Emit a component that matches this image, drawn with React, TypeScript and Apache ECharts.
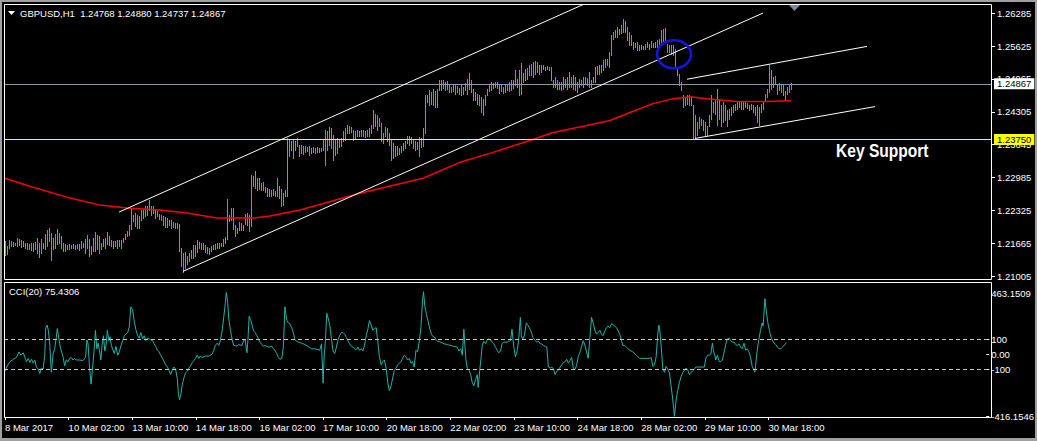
import React, { useEffect, useRef } from "react";
import * as echarts from "echarts";

const FONT = '"Liberation Sans", Arial, sans-serif';
const PRICE_BASE = 1.2;
const PIP = 0.0001;

// Bar highs / lows in pips above 1.2000 (bar index = position in array)
const highPips = [
  171,161,173,171,169,167,177,175,173,171, 167,166,164,166,166,169,177,166,174,167,
  184,193,197,186,177,185,195,187,181,167, 164,163,165,163,165,163,165,164,171,167,
  175,182,174,161,177,189,183,181,167,175, 177,189,181,172,171,171,173,172,173,177,
  184,191,204,237,224,227,224,221,234,233, 241,242,254,242,241,234,231,226,223,221,
  219,217,214,213,209,207,207,206,157,147, 149,141,146,153,163,162,172,169,167,166,
  162,158,156,161,162,164,166,167,166,174, 179,255,224,237,237,204,197,209,207,204,
  226,227,224,304,302,311,297,297,287,289, 279,277,275,274,275,272,297,281,275,267,
  274,377,374,371,374,371,377,364,364,361, 361,359,361,357,359,357,359,357,357,374,
  394,391,399,397,384,374,377,375,377,391, 397,405,401,399,394,392,393,392,393,394,
  391,394,397,404,435,427,424,419,409,387, 399,397,387,374,367,361,362,357,361,367,
  371,381,382,379,374,371,369,379,377,397, 464,464,475,471,477,473,477,494,495,494,
  491,493,486,481,487,484,482,479,484,481, 489,497,509,495,477,471,467,464,461,457,
  464,477,484,491,489,491,491,486,484,481, 485,487,491,494,495,515,497,514,529,509,
  517,519,524,527,531,532,531,524,524,525, 521,523,521,521,494,501,494,491,491,501,
  497,501,511,501,504,501,491,497,494,501, 501,499,511,494,501,521,523,525,525,534,
  537,537,551,584,591,594,601,597,604,617, 614,601,591,584,571,569,571,565,564,563,
  567,571,567,572,569,571,574,577,594,597, 599,567,564,565,564,557,521,507,491,464,
  461,464,464,461,444,424,411,421,417,414, 411,401,424,464,451,454,477,454,444,451,
  444,434,437,441,444,447,451,452,451,453, 451,449,445,447,444,441,444,441,447,452,
  467,477,525,514,501,503,484,489,485,484, 472,481,484,489
];
const lowPips = [
  142,144,157,161,161,162,161,162,159,161, 157,155,154,153,151,154,147,139,147,157,
  155,161,171,133,154,157,164,167,157,151, 151,154,154,156,156,155,157,153,157,159,
  147,157,141,144,151,151,154,147,154,161, 157,164,162,161,157,161,157,161,157,169,
  175,181,182,194,211,201,197,196,214,217, 221,224,234,224,227,217,221,215,214,204,
  199,199,204,197,199,197,197,151,121,109, 117,124,131,137,137,141,149,157,154,154,
  149,146,144,151,154,155,157,157,161,161, 166,175,211,213,194,181,187,193,193,193,
  206,204,191,201,281,277,274,275,274,274, 269,261,262,262,264,261,261,257,241,244,
  261,261,341,354,337,354,361,342,347,346, 349,351,344,347,349,347,349,349,351,354,
  324,354,364,357,334,344,347,359,361,371, 374,387,387,389,374,377,381,382,382,382,
  379,381,382,387,397,401,394,401,371,367, 381,371,364,334,337,341,344,346,349,354,
  357,367,364,367,357,354,355,341,359,361, 387,451,444,447,444,441,441,474,475,479,
  474,477,471,471,473,467,471,467,464,466, 474,467,477,471,454,454,447,444,431,424,
  444,464,473,475,479,481,479,469,473,469, 471,474,473,475,479,484,481,464,467,491,
  495,497,504,504,501,507,511,507,511,516, 514,516,514,494,481,481,477,477,474,477,
  481,477,481,481,477,474,471,481,484,481, 487,484,481,481,491,491,507,507,511,514,
  521,524,521,544,577,581,581,587,589,591, 591,574,564,564,557,561,554,554,557,556,
  557,561,557,561,561,561,561,564,571,571, 574,551,551,547,544,521,504,484,474,441,
  444,447,444,444,377,377,384,397,404,394, 384,384,401,417,431,427,404,417,401,411,
  414,401,417,424,431,434,437,441,437,436, 441,439,434,437,431,424,411,404,431,437,
  454,461,471,477,481,487,467,474,471,464, 454,467,471,477
];

// Red moving average: [bar index, price]
const maBars = [0, 14, 31, 47.5, 61, 77.5, 91, 106, 124, 132.5, 147.5, 177.5, 209, 227.5, 244, 262.5, 274, 291, 302.5, 312.5, 324, 334, 342.5, 351, 366, 381, 393];
const maValues = [1.2297, 1.2279, 1.2259, 1.2243, 1.2237, 1.2233, 1.2227, 1.2217, 1.2217, 1.2221, 1.2233, 1.2267, 1.2297, 1.2329, 1.2349, 1.2373, 1.2389, 1.2403, 1.2413, 1.2429, 1.2447, 1.2457, 1.2461, 1.2457, 1.2451, 1.2451, 1.2453];

// CCI(20): [bar index, value]
const cciPoints = [
  [0,-115],[0.8,-87],[2.5,-51],[4.2,-35],[5.8,-23],[7,14],[8,-8],[9.2,8],[10,-23],[10.8,-51],[11.7,-29],[12.5,-57],[13.3,-35],[14.2,-61],[15,-40],[15.8,-87],[16.7,-100],[17.5,-130],[18.3,-94],[19.2,-100],
  [20,-8],[20.5,175],[21.2,193],[21.8,158],[22.5,68],[23.3,-122],[24.2,3],[25,35],[25.8,111],[26.3,169],[27.2,94],[28,35],[29.2,-18],[30,-79],[30.8,-40],[31.7,-51],[32.5,-29],[33.3,-23],[34.2,-40],[35,-29],
  [35.8,-40],[37.5,-40],[39.2,-44],[40.5,-23],[41.2,94],[41.8,68],[42.5,-87],[43.3,-201],[44.2,-72],[45,57],[45.5,158],[46.2,35],[46.8,72],[47.5,25],[48.2,-40],[48.8,57],[49.5,122],[50.2,20],[50.8,57],[51.5,158],
  [52.2,89],[52.8,115],[53.5,57],[54.2,29],[55,3],[55.8,51],[56.7,-8],[57.5,14],[58.3,57],[59.2,89],[60,122],[60.8,132],[61.7,143],[62.5,180],[63.3,315],[64.2,294],[65,218],[65.8,165],[66.7,122],[67.5,106],
  [68.3,143],[69.2,100],[70,122],[70.8,89],[71.7,106],[72.5,100],[73.3,94],[74.2,89],[75,68],[75.8,51],[76.7,25],[77.5,14],[78.3,-8],[79.2,-29],[80,-51],[80.8,-72],[81.7,-87],[82.5,-109],[83.3,-137],[84.2,-104],
  [85,-87],[85.8,-100],[86.7,-169],[87.2,-266],[87.8,-305],[88.5,-266],[89.2,-201],[90,-158],[90.8,-126],[91.7,-115],[92.5,-94],[93.3,-79],[94.2,-57],[95,-44],[95.8,-29],[96.7,-8],[97.5,-29],[98.3,-14],[99.2,-23],[100.8,-14],
  [102.5,-14],[104.2,-1],[105,25],[105.8,57],[106.7,72],[107.5,57],[108.3,89],[109.2,154],[110,244],[110.8,337],[111.3,410],[112,347],[112.5,240],[113.3,165],[114.2,100],[115,57],[115.8,57],[116.7,51],[117.5,63],[119.2,57],
  [120,89],[120.8,94],[121.7,8],[122.2,100],[122.8,251],[123.5,229],[124.2,197],[125,154],[125.8,143],[126.7,122],[127.5,100],[128.3,79],[129.2,63],[130,51],[130.8,57],[132.5,46],[134.2,51],[135,35],[135.8,25],[136.7,3],
  [137.5,-23],[138.3,-35],[139.2,-29],[140,46],[140.8,315],[141.3,261],[141.8,223],[142.5,208],[143.3,201],[144.2,175],[145,143],[145.8,94],[146.7,85],[147.5,79],[149.2,72],[150.8,63],[152.5,51],[154.2,35],[155.8,35],[157.5,29],
  [158.3,25],[159.2,68],[160,-195],[160.5,-18],[161.2,100],[161.8,272],[162.5,240],[163.3,197],[164.2,100],[165,20],[165.8,3],[166.7,46],[167.5,94],[168.3,122],[169.2,143],[170,143],[170.8,132],[171.7,111],[172.5,89],[173.3,68],
  [174.2,51],[175,46],[175.8,35],[176.7,29],[177.5,46],[178.3,25],[179.2,35],[180,20],[180.8,57],[181.7,122],[182.5,165],[183.3,223],[184.2,193],[185,158],[185.8,171],[186.7,175],[187.5,79],[188.3,-18],[189.2,-72],[190,-51],
  [190.8,-40],[191.7,-94],[192.5,-190],[193.3,-244],[194.2,-212],[195,-158],[195.8,-109],[196.7,-94],[197.5,-72],[198.3,-61],[199.2,-51],[200,-29],[200.8,-8],[201.7,-18],[202.5,-40],[203.3,-29],[204.2,-61],[205,-51],[205.8,-87],[206.7,25],
  [207.5,14],[208.3,79],[209.2,175],[210,358],[210.5,415],[211.2,315],[212,261],[212.8,218],[213.7,165],[214.5,132],[215.3,115],[216.2,111],[217,89],[217.8,85],[219.2,79],[220.8,68],[222.5,63],[224.2,57],[225.8,51],[227.5,46],
  [228.3,20],[229.2,35],[230,-8],[230.8,165],[231.3,57],[231.8,-35],[232.5,-94],[233.3,-104],[234.2,-137],[235,-190],[235.8,-212],[236.7,-169],[237.5,-137],[238,-223],[238.8,-104],[239.5,-18],[240,57],[240.8,85],[241.7,68],[242.5,94],
  [243.3,100],[244.2,94],[245,79],[245.8,68],[246.7,46],[247.5,25],[248.3,8],[249.2,20],[250,68],[250.8,79],[252.5,79],[253.3,85],[254.2,89],[255,165],[255.8,57],[256.7,-18],[257.5,14],[258.3,89],[259.2,244],[259.7,122],
  [260.3,100],[261.2,122],[262.2,208],[262.8,197],[263.7,175],[264.5,154],[265.5,111],[266.7,89],[267.5,79],[268.3,85],[269.2,68],[270,68],[270.8,57],[271.7,51],[272.5,46],[273.3,-87],[274.2,-94],[275,-87],[275.8,-100],[276.7,-137],
  [277.5,-115],[278.3,-109],[279.2,-87],[280,-72],[280.8,-57],[281.7,-51],[282.5,-35],[283.3,-61],[284.2,-44],[285,-23],[285.8,-94],[286.7,-104],[287.5,-72],[288.3,-18],[289.2,14],[290,51],[290.8,89],[291.7,57],[292.5,14],[293.3,-29],
  [294.2,111],[295,244],[295.8,208],[296.7,158],[297.5,132],[298.3,143],[299.2,158],[300,132],[300.8,122],[301.7,154],[302.5,175],[303.3,186],[304.2,175],[305,201],[305.8,197],[306.7,186],[307.5,175],[308.3,158],[309.2,132],[310,89],
  [310.8,57],[311.7,57],[312.5,46],[313.3,35],[314.2,25],[315.8,14],[317.5,-8],[319.2,-29],[320.8,-29],[322.5,-29],[324.2,-29],[325,-23],[325.8,-83],[326.7,-72],[327.5,-18],[328.3,132],[328.8,193],[329.2,175],[330,57],[330.8,-94],
  [331.7,-122],[332.5,-83],[333.3,-100],[334.2,-126],[335,-212],[335.8,-298],[336.7,-416],[337.5,-309],[338.3,-244],[339.2,-190],[340,-152],[340.8,-126],[341.7,-109],[342.5,-94],[343.3,-104],[344.2,-137],[345,-122],[345.8,-115],[346.7,-100],[347.5,-87],
  [348.3,-87],[350,-87],[351.7,-87],[352.5,-29],[353.3,-8],[354.2,-8],[355,-1],[355.8,72],[356.3,25],[357,-8],[357.5,-40],[358.3,-8],[359.2,-51],[360,-51],[360.8,-40],[361.7,14],[362.5,63],[363.3,100],[364.2,106],[365,89],
  [365.8,79],[366.7,79],[367.5,63],[368.3,57],[369.2,68],[370,46],[370.8,35],[371.7,72],[372.5,25],[373.3,35],[374.2,14],[375,-23],[375.8,-83],[376.7,-109],[377.2,-122],[377.8,-40],[378.5,46],[379.2,100],[380,158],[380.8,208],
  [381.3,186],[382.2,369],[382.8,294],[383.7,208],[384.5,154],[385.3,111],[386.2,85],[386.8,72],[387.7,63],[388.5,46],[389.3,35],[390.2,35],[391,46],[391.8,57],[393,75.43]
];

const priceTicks = [1.21005, 1.21665, 1.22325, 1.22985, 1.23645, 1.24305, 1.24965, 1.25625, 1.26285];
const cciTicks = [463.1509, 100, 0, -100, -416.1546];
const cciTickLabels = ["463.1509", "100", "0.00", "-100", "-416.1546"];
const timeTickBars = [0, 32, 64, 96, 128, 160, 192, 224, 256, 288, 320, 352, 384];
const timeTickLabels = ["8 Mar 2017", "10 Mar 02:00", "13 Mar 10:00", "14 Mar 18:00", "16 Mar 02:00", "17 Mar 10:00", "20 Mar 18:00", "22 Mar 02:00", "23 Mar 10:00", "24 Mar 18:00", "28 Mar 02:00", "29 Mar 10:00", "30 Mar 18:00"];

const symbolTitle = "GBPUSD,H1";
const lastOHLC = ["1.24768", "1.24880", "1.24737", "1.24867"];
const cciTitle = "CCI(20) 75.4306";
const bidPrice = 1.24867;
const supportPrice = 1.2375;
const supportText = "Key Support";

// Trend / channel lines: [[bar, price], [bar, price]]
const trendLines = [
  [[57, 1.2229], [289, 1.2646]],
  [[89, 1.2110], [379, 1.2629]],
  [[341, 1.2496], [431, 1.2562]],
  [[345, 1.2377], [435, 1.2441]],
];
const circleCenter = [334.5, 1.2546];

const BAR_COLOR = "#32cd32";

export default function App() {
  const ref = useRef<HTMLDivElement>(null);
  useEffect(() => {
    document.body.style.margin = "0";
    const chart = echarts.init(ref.current as HTMLDivElement, null, { renderer: "svg" });
    const barData = highPips.map((h, i) => [i, PRICE_BASE + h * PIP, PRICE_BASE + lowPips[i] * PIP]);
    const maData = maBars.map((b, i) => [b, maValues[i]]);
    const textStyle = { color: "#ffffff", fontFamily: FONT, fontSize: 9.5 };

    const option: any = {
      animation: false,
      backgroundColor: "#000000",
      grid: [
        { left: 4, top: 4, width: 988, height: 275 },
        { left: 4, top: 282, width: 988, height: 135 },
      ],
      xAxis: [
        { type: "value", gridIndex: 0, min: -0.5, max: 493.5, show: false },
        {
          type: "value", gridIndex: 1, min: -0.5, max: 493.5, position: "bottom",
          axisLine: { show: false, onZero: false },
          splitLine: { show: false },
          axisTick: { show: true, customValues: timeTickBars, length: 3, lineStyle: { color: "#ffffff" } },
          axisLabel: {
            ...textStyle, customValues: timeTickBars, align: "left", margin: 5,
            formatter: (v: number) => timeTickLabels[timeTickBars.indexOf(v)] ?? "",
          },
        },
      ],
      yAxis: [
        {
          type: "value", gridIndex: 0, position: "right", min: 1.20945, max: 1.26472,
          axisLine: { show: false, onZero: false }, splitLine: { show: false },
          axisTick: { show: true, customValues: priceTicks, length: 3, lineStyle: { color: "#ffffff" } },
          axisLabel: { ...textStyle, customValues: priceTicks, margin: 5, formatter: (v: number) => v.toFixed(5) },
        },
        {
          type: "value", gridIndex: 1, position: "right", min: -420, max: 480,
          axisLine: { show: false, onZero: false }, splitLine: { show: false },
          axisTick: { show: true, customValues: [100, 0, -100, -416.1546], length: 3, lineStyle: { color: "#ffffff" } },
          axisLabel: {
            ...textStyle, customValues: cciTicks, margin: 5,
            formatter: (v: number) => {
              const i = cciTicks.indexOf(v);
              if (i === 0) return "{top|" + cciTickLabels[0] + "}";
              return i >= 0 ? cciTickLabels[i] : "";
            },
            rich: { top: { ...textStyle, padding: [17, 0, 0, 0] } },
          },
        },
      ],
      series: [
        {
          type: "custom", xAxisIndex: 0, yAxisIndex: 0, z: 2, silent: true,
          encode: { x: 0, y: [1, 2] },
          data: barData,
          renderItem: (_p: any, api: any) => {
            const x = api.value(0);
            const t = api.coord([x, api.value(1)]);
            const b = api.coord([x, api.value(2)]);
            const px = Math.round(t[0]) + 0.5;
            return {
              type: "line",
              shape: { x1: px, y1: Math.round(t[1]), x2: px, y2: Math.round(b[1]) + 1 },
              style: { stroke: BAR_COLOR, lineWidth: 1 },
            };
          },
        },
        {
          type: "line", xAxisIndex: 0, yAxisIndex: 0, z: 3, silent: true,
          data: maData, showSymbol: false, symbol: "none",
          lineStyle: { color: "#ff0000", width: 1.5 },
          markLine: {
            silent: true, symbol: ["none", "none"], animation: false, precision: 6,
            lineStyle: { color: "#ffffff", width: 1, type: "solid" },
            label: { show: false },
            emphasis: { disabled: true },
            data: [
              {
                yAxis: bidPrice,
                lineStyle: { color: "#8c98a4", width: 1, type: "solid" },
                label: {
                  show: true, position: "end", distance: 2, formatter: bidPrice.toFixed(5),
                  color: "#000000", backgroundColor: "#ffffff", padding: [1, 3, 0, 3],
                  fontFamily: FONT, fontSize: 9.5,
                },
              },
              {
                yAxis: supportPrice,
                lineStyle: { color: "#ffff00", width: 1, type: "solid" },
                label: {
                  show: true, position: "end", distance: 2, formatter: supportPrice.toFixed(5),
                  color: "#000000", backgroundColor: "#ffff00", padding: [1, 3, 0, 3],
                  fontFamily: FONT, fontSize: 9.5,
                },
              },
              ...trendLines.map((ln) => [{ coord: ln[0] }, { coord: ln[1] }]),
            ],
          },
        },
        {
          type: "custom", xAxisIndex: 0, yAxisIndex: 0, z: 10, silent: true,
          data: [circleCenter],
          renderItem: (_p: any, api: any) => {
            const c = api.coord([api.value(0), api.value(1)]);
            return {
              type: "ellipse",
              shape: { cx: c[0], cy: c[1], rx: 17, ry: 14 },
              style: { fill: "none", stroke: "#1414e6", lineWidth: 2.5 },
            };
          },
        },
        {
          type: "line", xAxisIndex: 1, yAxisIndex: 1, z: 3, silent: true,
          data: cciPoints, showSymbol: false, symbol: "none",
          lineStyle: { color: "#20b2aa", width: 1 },
          markLine: {
            silent: true, symbol: ["none", "none"], animation: false, precision: 4,
            label: { show: false },
            lineStyle: { color: "#c8c8c8", width: 1, type: [4, 3] },
            data: [{ yAxis: 100 }, { yAxis: -100 }],
          },
        },
      ],
      graphic: [
        { type: "rect", silent: true, z: 20, shape: { x: 4.5, y: 4.5, width: 987, height: 275 }, style: { fill: "none", stroke: "#ffffff", lineWidth: 1 } },
        { type: "rect", silent: true, z: 20, shape: { x: 4.5, y: 282.5, width: 987, height: 135 }, style: { fill: "none", stroke: "#ffffff", lineWidth: 1 } },
        { type: "polygon", silent: true, z: 20, shape: { points: [[8, 11], [15, 11], [11.5, 15]] }, style: { fill: "#ffffff" } },
        { type: "polygon", silent: true, z: 20, shape: { points: [[789, 5], [800, 5], [794.5, 11]] }, style: { fill: "#7f8790" } },
        {
          type: "text", silent: true, z: 20, x: 20, y: 13,
          style: { text: symbolTitle + "  " + lastOHLC.join(" "), fill: "#ffffff", font: "9.5px " + FONT, verticalAlign: "middle" },
        },
        {
          type: "text", silent: true, z: 20, x: 9, y: 291,
          style: { text: cciTitle, fill: "#ffffff", font: "9.5px " + FONT, verticalAlign: "middle" },
        },
        {
          type: "text", silent: true, z: 20, x: 836, y: 150.5, scaleX: 0.82,
          style: { text: supportText, fill: "#ffffff", font: "bold 19px " + FONT, verticalAlign: "middle" },
        },
      ],
    };
    chart.setOption(option);
    return () => chart.dispose();
  }, []);

  return (
    <div style={{ position: "absolute", left: 0, top: 0, width: 1037, height: 441, background: "#000" }}>
      <div ref={ref} style={{ position: "absolute", left: 0, top: 0, width: 1037, height: 441 }} />
      <div
        style={{
          position: "absolute", left: 0, top: 0, width: 1037, height: 441, boxSizing: "border-box",
          borderTop: "2px solid #a0a0a0", borderLeft: "2px solid #a0a0a0",
          borderRight: "2px solid #a0a0a0", borderBottom: "3px solid #a0a0a0", pointerEvents: "none",
        }}
      />
    </div>
  );
}
